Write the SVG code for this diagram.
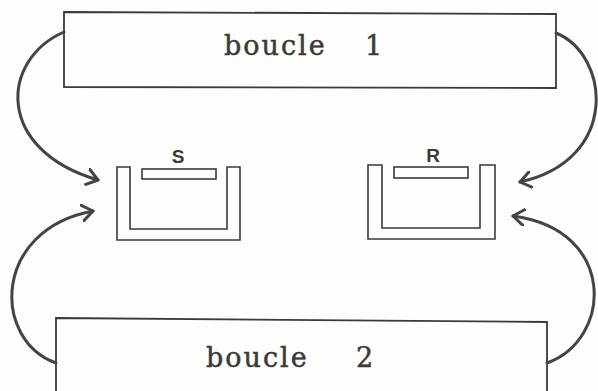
<svg xmlns="http://www.w3.org/2000/svg" width="598" height="391" viewBox="0 0 598 391">
<defs>
<style>
.box{fill:none;stroke:#3a3a3a;stroke-width:1.8}
.tank{fill:none;stroke:#3a3a3a;stroke-width:1.6}
.arc{fill:none;stroke:#444;stroke-width:3;stroke-linecap:round}
.big{font-family:"DejaVu Serif","Liberation Serif",serif;font-size:27px;letter-spacing:2px;fill:#3a3a3a;stroke:#3a3a3a;stroke-width:0.5}
.lbl{font-family:"Liberation Sans",Arial,sans-serif;font-size:19px;font-weight:bold;fill:#3a3a3a;text-anchor:middle}
</style>
<marker id="chev" viewBox="-12 -9 14 18" markerWidth="14" markerHeight="18" refX="0" refY="0" orient="auto" markerUnits="userSpaceOnUse">
<polyline points="-11,-8 0,0 -11,8" fill="none" stroke="#444" stroke-width="3" stroke-linecap="round" stroke-linejoin="round"/>
</marker>
</defs>
<rect width="598" height="391" fill="#fdfdfb"/>
<g id="boucle1">
<polygon class="box" points="64,12 556,14 556,88 64,87"/>
<text class="big" x="224" y="55">boucle</text>
<text class="big" x="365" y="55">1</text>
</g>
<g id="boucle2">
<polygon class="box" points="56,318 547,322 547,396 56,396"/>
<text class="big" x="206" y="367">boucle</text>
<text class="big" x="356" y="367">2</text>
</g>
<g id="tankS">
<path class="tank" d="M117,167 V240 H240 V167 H227 V229 H130 V167 Z"/>
<rect class="tank" x="142" y="169" width="74" height="10"/>
<text class="lbl" x="178" y="163">S</text>
</g>
<g id="tankR">
<path class="tank" d="M368,165 V239 H495 V165 H480 V228 H382 V165 Z"/>
<rect class="tank" x="394" y="167" width="74" height="11"/>
<text class="lbl" x="433" y="162">R</text>
</g>
<g id="connectors">
<path class="arc" d="M64,32 C0,60 -5,150 98,180" marker-end="url(#chev)"/>
<path class="arc" d="M556,33 C610,55 620,160 520,182" marker-end="url(#chev)"/>
<path class="arc" d="M56,363 C-8,340 -8,230 93,211" marker-end="url(#chev)"/>
<path class="arc" d="M547,363 C612,340 618,230 513,216" marker-end="url(#chev)"/>
</g>
</svg>
